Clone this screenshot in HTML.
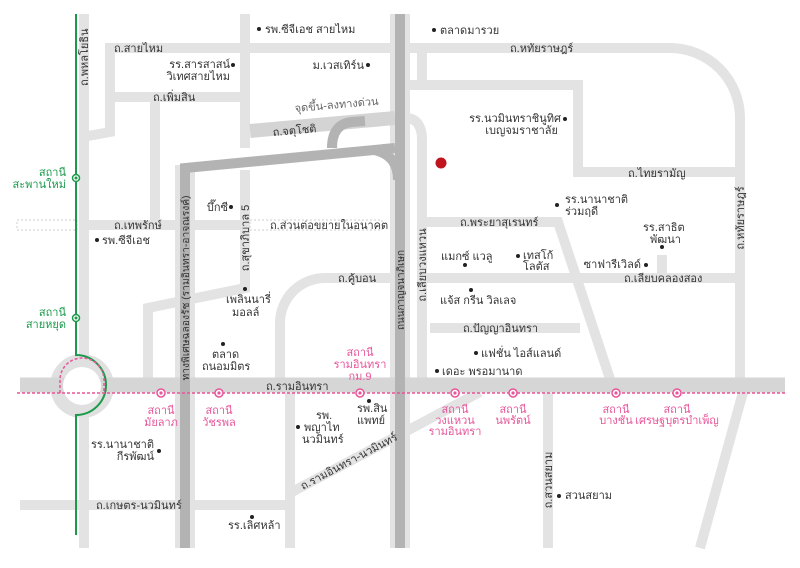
<!DOCTYPE html>
<html><head><meta charset="utf-8"><style>
html,body{margin:0;padding:0;background:#fff;width:800px;height:568px;overflow:hidden}
svg text{font-family:"Liberation Sans","Noto Sans CJK SC",sans-serif;font-size:11px;fill:#333}
.g text,text.g{fill:#1a9a4a}
text.p{fill:#e8559a}
</style></head><body>
<svg width="800" height="568" viewBox="0 0 800 568" xmlns="http://www.w3.org/2000/svg">
<g fill="none" stroke="#e3e3e4" stroke-width="10">
<path d="M84 14V548"/>
<path d="M105 48H400"/>
<path d="M400 48H670A70 70 0 0 1 740 118V380"/>
<path d="M110 48V132L88 136"/>
<path d="M105 97H245"/>
<path d="M155 97V225"/>
<path d="M245 14V148"/>
<path d="M245 170V288L148 308V385"/>
<path d="M88 225H245"/>
<path d="M400 85H578V172H740"/>
<path d="M422 48V85"/>
<path d="M405 118Q422 118 422 140V385"/>
<path d="M425 222H558L612 385"/>
<path d="M420 278H740"/>
<path d="M662 255V278"/>
<path d="M430 328H580"/>
<path d="M400 278H325A45 45 0 0 0 280 323V385"/>
<path d="M20 505H290"/>
<path d="M290 393V548"/>
<path d="M290 493L480 392"/>
<path d="M548 393V548"/>
<path d="M745 385L700 548"/>
<path d="M185 165V548" stroke-width="20"/>
<path d="M400 14V548" stroke-width="20"/>
</g>
<path d="M250 131L395 118" stroke="#d4d4d4" stroke-width="14" fill="none"/>
<circle cx="82" cy="386" r="32" fill="#e0e0e0"/>
<path d="M20 385H785" stroke="#d6d6d6" stroke-width="15"/>
<circle cx="82" cy="386" r="19" fill="#fff"/>
<rect x="17" y="220" width="60" height="10" fill="none" stroke="#ccc" stroke-dasharray="2,2" stroke-width="1"/>
<rect x="250" y="220" width="132" height="10" fill="none" stroke="#ccc" stroke-dasharray="2,2" stroke-width="1"/>
<g fill="none" stroke="#b3b3b3" stroke-width="10">
<path d="M185 548V168L395 148"/>
<path d="M400 14V548"/>
<path d="M374 150Q398 155 398 180"/>
<path d="M332 148Q332 124 352 122L365 121"/>
</g>
<path d="M76 14V355A30 30 0 0 1 76 415V535" fill="none" stroke="#1a9a4a" stroke-width="2"/>
<path d="M60 393V380A22 22 0 0 1 104 380V393" fill="none" stroke="#e8559a" stroke-width="1.5" stroke-dasharray="3,2"/>
<line x1="17" y1="393" x2="785" y2="393" stroke="#e8559a" stroke-width="1.5" stroke-dasharray="3,2"/>
<g fill="#fff" stroke="#e8559a" stroke-width="1.5">
<circle cx="161" cy="393" r="4"/><circle cx="219" cy="393" r="4"/><circle cx="360" cy="393" r="4"/><circle cx="455" cy="393" r="4"/><circle cx="513" cy="393" r="4"/><circle cx="616" cy="393" r="4"/><circle cx="677" cy="393" r="4"/>
</g>
<g fill="#e8559a"><circle cx="161" cy="393" r="1.6"/><circle cx="219" cy="393" r="1.6"/><circle cx="360" cy="393" r="1.6"/><circle cx="455" cy="393" r="1.6"/><circle cx="513" cy="393" r="1.6"/><circle cx="616" cy="393" r="1.6"/><circle cx="677" cy="393" r="1.6"/></g>
<g fill="#fff" stroke="#1a9a4a" stroke-width="1.5"><circle cx="76" cy="178" r="3.5"/><circle cx="76" cy="318" r="3.5"/></g>
<g fill="#1a9a4a"><circle cx="76" cy="178" r="1.5"/><circle cx="76" cy="318" r="1.5"/></g>
<circle cx="441" cy="163" r="5.5" fill="#c0141e"/>
<g fill="#222">
<circle cx="259" cy="29" r="2"/><circle cx="233" cy="65" r="2"/><circle cx="368" cy="65" r="2"/><circle cx="434" cy="30" r="2"/>
<circle cx="565" cy="119" r="2"/><circle cx="557" cy="205" r="2"/><circle cx="662" cy="247" r="2"/><circle cx="646" cy="265" r="2"/>
<circle cx="518" cy="256" r="2"/><circle cx="465" cy="265" r="2"/><circle cx="471" cy="290" r="2"/><circle cx="476" cy="353" r="2"/><circle cx="437" cy="371" r="2"/>
<circle cx="231" cy="207" r="2"/><circle cx="97" cy="240" r="2"/><circle cx="245" cy="289" r="2"/><circle cx="223" cy="344" r="2"/>
<circle cx="369" cy="401" r="2"/><circle cx="298" cy="427" r="2"/><circle cx="159" cy="451" r="2"/><circle cx="252" cy="517" r="2"/><circle cx="559" cy="496" r="2"/>
</g>
<text x="265" y="33">รพ.ซีจีเอช สายไหม</text>
<text x="114" y="52">ถ.สายไหม</text>
<text x="230" y="68" text-anchor="end">รร.สารสาสน์</text>
<text x="230" y="80" text-anchor="end">วิเทศสายไหม</text>
<text x="364" y="69" text-anchor="end">ม.เวสเทิร์น</text>
<text x="153" y="101">ถ.เพิ่มสิน</text>
<text x="295" y="112" transform="rotate(-5 295 112)" style="fill:#666">จุดขึ้น-ลงทางด่วน</text>
<text x="273" y="136" transform="rotate(-5 273 136)">ถ.จตุโชติ</text>
<text x="228" y="211" text-anchor="end">บึ๊กซี</text>
<text x="114" y="229">ถ.เทพรักษ์</text>
<text x="270" y="229">ถ.ส่วนต่อขยายในอนาคต</text>
<text x="102" y="244">รพ.ซีจีเอช</text>
<text x="440" y="34">ตลาดมารวย</text>
<text x="510" y="52">ถ.หทัยราษฎร์</text>
<text x="561" y="122" text-anchor="end">รร.นวมินทราชินูทิศ</text>
<text x="558" y="134" text-anchor="end">เบญจมราชาลัย</text>
<text x="628" y="177">ถ.ไทยรามัญ</text>
<text x="565" y="203">รร.นานาชาติ</text>
<text x="565" y="215">ร่วมฤดี</text>
<text x="643" y="231">รร.สาธิต</text>
<text x="650" y="243">พัฒนา</text>
<text x="641" y="268" text-anchor="end">ซาฟารีเวิลด์</text>
<text x="624" y="282">ถ.เลียบคลองสอง</text>
<text x="460" y="226">ถ.พระยาสุเรนทร์</text>
<text x="441" y="260">แมกซ์ แวลู</text>
<text x="523" y="259">เทสโก้</text>
<text x="523" y="270">โลตัส</text>
<text x="440" y="304">แจ้ส กรีน วิลเลจ</text>
<text x="463" y="332">ถ.ปัญญาอินทรา</text>
<text x="481" y="357">แฟชั่น ไอส์แลนด์</text>
<text x="442" y="375">เดอะ พรอมานาด</text>
<text x="338" y="282">ถ.คู้บอน</text>
<text x="226" y="303">เพลินนารี่</text>
<text x="232" y="316">มอลล์</text>
<text x="212" y="358">ตลาด</text>
<text x="202" y="370">ถนอมมิตร</text>
<text x="266" y="390">ถ.รามอินทรา</text>
<text x="565" y="499">สวนสยาม</text>
<text x="96" y="509">ถ.เกษตร-นวมินทร์</text>
<text x="228" y="529">รร.เลิศหล้า</text>
<text x="154" y="448" text-anchor="end">รร.นานาชาติ</text>
<text x="154" y="460" text-anchor="end">กีรพัฒน์</text>
<text x="316" y="419">รพ.</text>
<text x="304" y="431">พญาไท</text>
<text x="302" y="443">นวมินทร์</text>
<text x="357" y="412">รพ.สิน</text>
<text x="357" y="424">แพทย์</text>
<text x="303" y="490" transform="rotate(-28 303 490)">ถ.รามอินทรา-นวมินทร์</text>
<text transform="translate(88 86) rotate(-90)">ถ.พหลโยธิน</text>
<text transform="translate(249 238) rotate(-90)" text-anchor="middle">ถ.สุขาภิบาล 5</text>
<text transform="translate(189 288) rotate(-90)" text-anchor="middle" textLength="185" lengthAdjust="spacingAndGlyphs" style="font-size:10px">ทางพิเศษฉลองรัช (รามอินทรา-อาจณรงค์)</text>
<text transform="translate(404 290) rotate(-90)" text-anchor="middle" textLength="80" lengthAdjust="spacingAndGlyphs" style="font-size:10px">ถนนกาญจนาภิเษก</text>
<text transform="translate(426 265) rotate(-90)" text-anchor="middle">ถ.เลียบวงแหวน</text>
<text transform="translate(744 218) rotate(-90)" text-anchor="middle">ถ.หทัยราษฎร์</text>
<text transform="translate(552 480) rotate(-90)" text-anchor="middle">ถ.สวนสยาม</text>
<text x="66" y="176" text-anchor="end" class="g">สถานี</text>
<text x="66" y="188" text-anchor="end" class="g">สะพานใหม่</text>
<text x="66" y="316" text-anchor="end" class="g">สถานี</text>
<text x="66" y="328" text-anchor="end" class="g">สายหยุด</text>
<g text-anchor="middle">
<text class="p" x="161" y="414">สถานี</text><text class="p" x="161" y="426">มัยลาภ</text>
<text class="p" x="219" y="414">สถานี</text><text class="p" x="219" y="426">วัชรพล</text>
<text class="p" x="360" y="356">สถานี</text><text class="p" x="360" y="368">รามอินทรา</text><text class="p" x="360" y="380">กม.9</text>
<text class="p" x="455" y="413">สถานี</text><text class="p" x="455" y="424">วงแหวน</text><text class="p" x="455" y="435">รามอินทรา</text>
<text class="p" x="513" y="413">สถานี</text><text class="p" x="513" y="424">นพรัตน์</text>
<text class="p" x="616" y="413">สถานี</text><text class="p" x="616" y="424">บางชัน</text>
<text class="p" x="677" y="413">สถานี</text><text class="p" x="677" y="424">เศรษฐบุตรบำเพ็ญ</text>
</g>
</svg>
</body></html>
